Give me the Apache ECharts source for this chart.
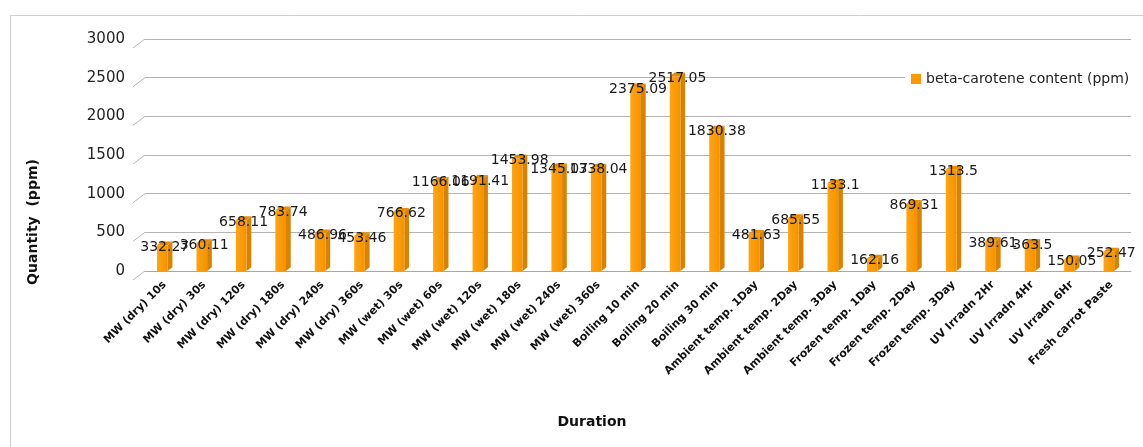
<!DOCTYPE html>
<html>
<head>
<meta charset="utf-8">
<script src="https://cdn.jsdelivr.net/npm/echarts@6/dist/echarts.min.js"></script>
<style>
  html, body { margin: 0; padding: 0; background: #fff; }
  #chart { width: 1143px; height: 447px; }
</style>
</head>
<body>
<div id="chart"></div>
<script>
// Beta-carotene content of carrot paste under different treatments
const categories = [
  'MW (dry) 10s', 'MW (dry) 30s', 'MW (dry) 120s', 'MW (dry) 180s', 'MW (dry) 240s', 'MW (dry) 360s',
  'MW (wet) 30s', 'MW (wet) 60s', 'MW (wet) 120s', 'MW (wet) 180s', 'MW (wet) 240s', 'MW (wet) 360s',
  'Boiling 10 min', 'Boiling 20 min', 'Boiling 30 min',
  'Ambient temp. 1Day', 'Ambient temp. 2Day', 'Ambient temp. 3Day',
  'Frozen temp. 1Day', 'Frozen temp. 2Day', 'Frozen temp. 3Day',
  'UV Irradn 2Hr', 'UV Irradn 4Hr', 'UV Irradn 6Hr',
  'Fresh carrot Paste'
];
const betaCarotene = [
  332.27, 360.11, 658.11, 783.74, 486.96, 453.46,
  766.62, 1166.06, 1191.41, 1453.98, 1345.07, 1338.04,
  2375.09, 2517.05, 1830.38,
  481.63, 685.55, 1133.1,
  162.16, 869.31, 1313.5,
  389.61, 363.5, 150.05,
  252.47
];
const valueTicks = [0, 500, 1000, 1500, 2000, 2500, 3000];
const seriesName = 'beta-carotene content (ppm)';

const FONT = '"DejaVu Sans", "Liberation Sans", Arial, sans-serif';
const chart = echarts.init(document.getElementById('chart'));

// 3D-looking column: front face, darker side face and a lit top
function renderColumn(params, api) {
  const idx = api.value(0);
  const val = api.value(1);
  const base = api.coord([idx, 0]);
  const top = api.coord([idx, val]);
  const band = api.size([1, 0])[0];
  const w = band * 0.27;
  const d = band * 0.12;
  const dy = d * 0.8;
  const x0 = base[0] - (w + d) / 2;
  const x1 = x0 + w;
  const yT = top[1];
  const yB = base[1];
  return {
    type: 'group',
    children: [
      { type: 'polygon', shape: { points: [[x1, yT], [x1 + d, yT - dy], [x1 + d, yB - dy], [x1, yB]] },
        style: { fill: '#D98200' } },
      { type: 'rect', shape: { x: x0, y: yT, width: w, height: yB - yT },
        style: { fill: new echarts.graphic.LinearGradient(0, 0, 1, 0, [
          { offset: 0, color: '#FFA412' }, { offset: 1, color: '#F59300' }]) } },
      { type: 'polygon', shape: { points: [[x0, yT], [x0 + d, yT - dy], [x1 + d, yT - dy], [x1, yT]] },
        style: { fill: '#E88C00' } },
      { type: 'text', x: base[0], y: yT + 2,
        style: { text: String(val), font: '14px ' + FONT, fill: '#1a1a1a',
                 align: 'center', verticalAlign: 'middle' } }
    ]
  };
}

// Left wall: short slanted lines joining each value label to its gridline
function renderWall(params, api) {
  const v = api.value(0);
  const p = api.coord([0, v]);
  const band = api.size([1, 0])[0];
  const xl = p[0] - band / 2;
  return {
    type: 'line',
    shape: { x1: xl - 12, y1: p[1] + 9, x2: xl, y2: p[1] },
    style: { stroke: '#b4b4b4', lineWidth: 1 }
  };
}

chart.setOption({
  animation: false,
  textStyle: { fontFamily: FONT },
  grid: { left: 145, right: 12, top: 39, bottom: 176, containLabel: false },
  legend: {
    show: true,
    data: [{ name: seriesName, icon: 'rect', itemStyle: { color: '#FF9900' } }],
    left: 905, top: 69,
    itemWidth: 10, itemHeight: 10, itemGap: 4,
    backgroundColor: '#fff',
    padding: [3, 6, 3, 6],
    textStyle: { fontSize: 14, color: '#222', fontFamily: FONT }
  },
  xAxis: {
    type: 'category',
    data: categories,
    axisLine: { show: true, lineStyle: { color: '#a8a8a8' } },
    axisTick: { show: false },
    axisLabel: {
      interval: 0, rotate: 45, margin: 12,
      fontSize: 11, fontWeight: 'bold', color: '#111', fontFamily: FONT
    }
  },
  yAxis: {
    type: 'value',
    min: 0, max: 3000, interval: 500,
    axisLine: { show: false },
    axisTick: { show: false },
    splitLine: { lineStyle: { color: '#b4b4b4', width: 1 } },
    axisLabel: { margin: 20, fontSize: 15, color: '#222', fontFamily: FONT,
                 padding: [11, 0, 0, 0], formatter: v => String(v) }
  },
  series: [
    {
      type: 'custom',
      name: 'wall',
      silent: true,
      renderItem: renderWall,
      data: valueTicks.map(v => [v]),
      encode: { y: 0 },
      z: 1
    },
    {
      type: 'custom',
      name: seriesName,
      renderItem: renderColumn,
      itemStyle: { color: '#FF9900' },
      data: betaCarotene.map((v, i) => [i, v]),
      encode: { x: 0, y: 1 },
      z: 3
    }
  ],
  graphic: [
    { type: 'rect', left: 8, top: 13, shape: { width: 1134, height: 433 },
      style: { fill: 'none', stroke: '#cfcfcf', lineWidth: 1 }, z: -1 },
    { type: 'text', x: 33, y: 222, rotation: Math.PI / 2,
      style: { text: 'Quantity  (ppm)', font: 'bold 14px ' + FONT, fill: '#111',
               align: 'center', verticalAlign: 'middle' } },
    { type: 'text', x: 592, y: 422,
      style: { text: 'Duration', font: 'bold 14px ' + FONT, fill: '#111',
               align: 'center', verticalAlign: 'middle' } }
  ]
});
</script>
</body>
</html>
